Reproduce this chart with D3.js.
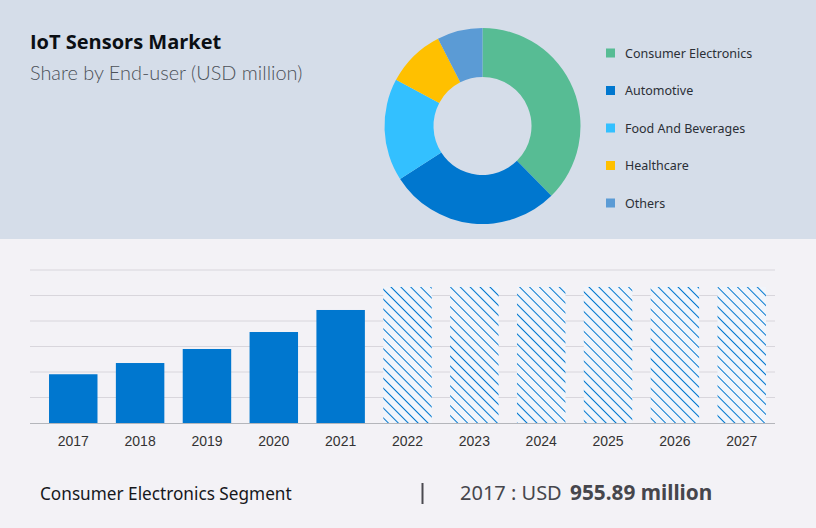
<!DOCTYPE html>
<html>
<head>
<meta charset="utf-8">
<script src="https://cdn.jsdelivr.net/npm/d3@7"></script>
<style>
html, body { margin: 0; padding: 0; background: #f3f2f6; overflow: hidden; }
svg { display: block; }
</style>
</head>
<body>
<script>
// share by end-user, percent
var segments = ["Consumer Electronics", "Automotive", "Food And Beverages", "Healthcare", "Others"];
var shares = [37.6, 28.3, 16.9, 9.7, 7.5];
var segmentColors = ["#57bc94", "#0077cf", "#33c0ff", "#ffc000", "#5b9bd5"];

// consumer electronics segment, USD million
var years = ["2017", "2018", "2019", "2020", "2021", "2022", "2023", "2024", "2025", "2026", "2027"];
var values = [955.89, 1176, 1451, 1784, 2216, 2667, 2667, 2667, 2667, 2667, 2667];
var forecast = [false, false, false, false, false, true, true, true, true, true, true];
var gridTicks = [0, 500, 1000, 1500, 2000, 2500, 3000];

var width = 816, height = 528;

var svg = d3.select("body").append("svg").attr("width", width).attr("height", height);

svg.append("rect").attr("width", width).attr("height", height).attr("fill", "#f3f2f6");
svg.append("rect").attr("width", width).attr("height", 239).attr("fill", "#d5dde9");

// hatch for the forecast years
var pat = svg.append("defs").append("pattern").attr("id", "hatch")
	.attr("patternUnits", "userSpaceOnUse").attr("width", 7).attr("height", 7)
	.attr("patternTransform", "rotate(45)");
pat.append("rect").attr("width", 7).attr("height", 7).attr("fill", "#f1f5fb");
pat.append("line").attr("x1", 0).attr("x2", 7).attr("y1", 3.5).attr("y2", 3.5)
	.attr("stroke", "#0077cf").attr("stroke-width", 1);

// heading
svg.append("text").attr("x", 30).attr("y", 49).style("font-family", "'Open Sans'").style("font-weight", 700)
	.style("font-size", "20px").attr("fill", "#0b0f14").text("IoT Sensors Market");
svg.append("text").attr("x", 30).attr("y", 80).style("font-family", "Lato").style("font-weight", 300)
	.style("font-size", "19.9px").attr("fill", "#4c5158").text("Share by End-user (USD million)");

// donut
var pie = d3.pie().sort(null);
var arc = d3.arc().innerRadius(49).outerRadius(98);
var donut = svg.append("g").attr("transform", "translate(482.5,126)");
donut.selectAll("path").data(pie(shares)).enter().append("path")
	.attr("d", arc).attr("fill", function (d, i) { return segmentColors[i]; });

// legend
var legendY = d3.scalePoint().domain(segments).range([53, 203]);
var legend = svg.append("g").selectAll("g").data(segments).enter().append("g")
	.attr("transform", function (d) { return "translate(606," + legendY(d) + ")"; });
legend.append("rect").attr("y", -4.5).attr("width", 9).attr("height", 9)
	.attr("fill", function (d, i) { return segmentColors[i]; });
legend.append("text").attr("x", 19).attr("y", 4.5).style("font-family", "'Noto Sans'")
	.style("font-size", "12.5px").attr("fill", "#2b2f36").text(function (d) { return d; });

// bars
var x = d3.scaleBand().domain(years).range([40, 775]).paddingInner(0.275).paddingOuter(0.135);
var y = d3.scaleLinear().domain([0, 3000]).range([423, 270]);

svg.append("g").selectAll("line").data(gridTicks.slice(1)).enter().append("line")
	.attr("x1", 30).attr("x2", 775)
	.attr("y1", function (d) { return y(d); }).attr("y2", function (d) { return y(d); })
	.attr("stroke", "#d8d6dc").attr("stroke-width", 1);

svg.append("g").selectAll("rect").data(years).enter().append("rect")
	.attr("x", function (d) { return x(d); })
	.attr("width", x.bandwidth())
	.attr("y", function (d, i) { return y(values[i]); })
	.attr("height", function (d, i) { return y(0) - y(values[i]); })
	.attr("fill", function (d, i) { return forecast[i] ? "url(#hatch)" : "#0077cf"; });

var xAxis = svg.append("g").attr("transform", "translate(0,423)")
	.call(d3.axisBottom(x).tickSize(0).tickPadding(13));
xAxis.select(".domain").remove();
xAxis.selectAll("text").style("font-family", "'Liberation Sans'").style("font-size", "14px").attr("fill", "#333");
svg.append("line").attr("x1", 30).attr("x2", 775).attr("y1", 423.5).attr("y2", 423.5)
	.attr("stroke", "#b4b6bb").attr("stroke-width", 1);

// footer
svg.append("text").attr("x", 40).attr("y", 500).style("font-family", "'Noto Sans'")
	.style("font-size", "17.2px").attr("fill", "#16181c").text("Consumer Electronics Segment");
svg.append("line").attr("x1", 422.5).attr("x2", 422.5).attr("y1", 483).attr("y2", 504)
	.attr("stroke", "#4a4a50").attr("stroke-width", 2);
var foot = svg.append("text").attr("x", 460).attr("y", 500).style("font-family", "'Noto Sans'")
	.style("font-size", "20px").attr("fill", "#46464c");
foot.append("tspan").text(years[0] + " : USD ");
foot.append("tspan").attr("x", 570).style("font-weight", 700).style("font-size", "20.8px").text(values[0] + " million");
</script>
</body>
</html>
